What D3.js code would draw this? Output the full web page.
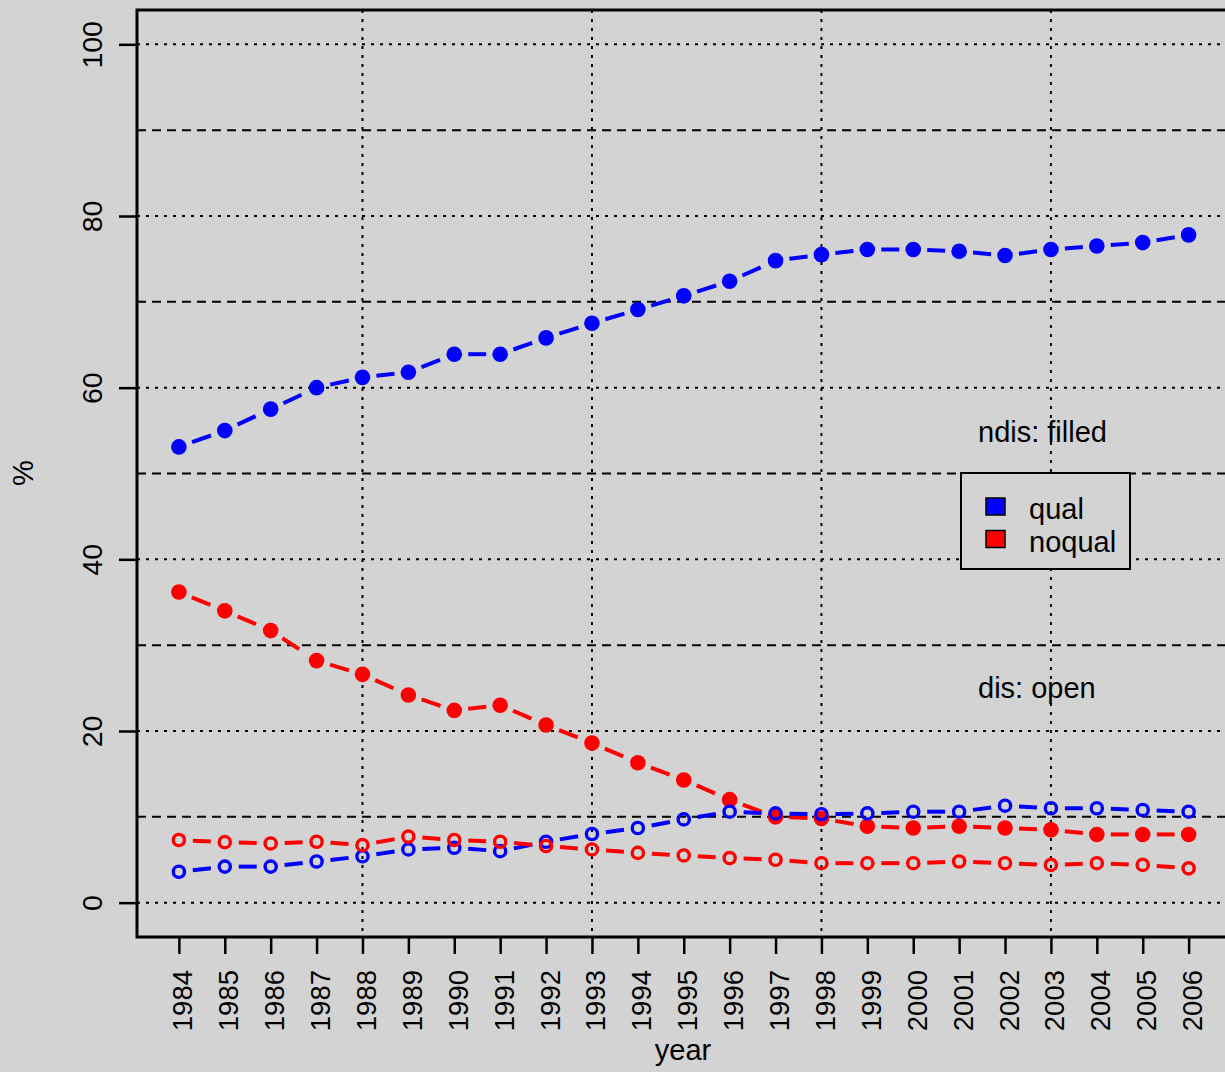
<!DOCTYPE html>
<meta charset="utf-8">
<style>
body { margin: 0; background: #d3d3d3; }
text { font-family: "Liberation Sans", Arial, sans-serif; fill: #000; }
</style>
<svg width="1225" height="1072"></svg>
<script src="https://cdn.jsdelivr.net/npm/d3@7"></script>
<script>

var years = d3.range(1984, 2007);

// ndis (filled points)
var ndisQual   = [53.1, 55.0, 57.5, 60.0, 61.2, 61.8, 63.9, 63.9, 65.8, 67.5, 69.1, 70.7,
                  72.4, 74.8, 75.5, 76.1, 76.1, 75.9, 75.4, 76.1, 76.5, 76.9, 77.8];
var ndisNoqual = [36.2, 34.0, 31.7, 28.2, 26.6, 24.2, 22.4, 23.0, 20.7, 18.6, 16.3, 14.3,
                  12.0, 10.0, 9.8, 8.9, 8.7, 8.9, 8.7, 8.5, 7.95, 7.95, 7.95];
// dis (open points)
var disQual    = [3.6, 4.2, 4.2, 4.8, 5.4, 6.2, 6.4, 6.0, 7.1, 8.0, 8.7, 9.7,
                  10.6, 10.4, 10.3, 10.4, 10.6, 10.6, 11.3, 11.0, 11.0, 10.8, 10.6];
var disNoqual  = [7.3, 7.05, 6.9, 7.1, 6.7, 7.7, 7.3, 7.1, 6.6, 6.2, 5.8, 5.5,
                  5.2, 5.0, 4.6, 4.6, 4.6, 4.8, 4.6, 4.4, 4.6, 4.4, 4.0];

var yTicks = [0, 20, 40, 60, 80, 100];
var yDotted = [0, 20, 40, 60, 80, 100];
var yDashed = [10, 30, 50, 70, 90];
var xGrid = [1988, 1993, 1998, 2003];

var legendLabels = ["qual", "noqual"];
var legendColors = ["#0000ff", "#ff0000"];

var series = [
  {values: ndisQual,   color: "#0000ff", filled: true},
  {values: ndisNoqual, color: "#ff0000", filled: true},
  {values: disQual,    color: "#0000ff", filled: false},
  {values: disNoqual,  color: "#ff0000", filled: false}
];

(function() {
var svg = d3.select("svg");

var pLeft = 137, pRight = 1229, pTop = 10, pBottom = 937;

var x = d3.scaleLinear().domain([1983.12, 2006.88]).range([138.5, 1229]);
var y = d3.scaleLinear().domain([-4, 104]).range([pBottom, pTop]);

// grid
var grid = svg.append("g");
grid.selectAll("line.dot")
  .data(yDotted).enter().append("line")
    .attr("x1", pLeft).attr("x2", pRight)
    .attr("y1", d => y(d)).attr("y2", d => y(d))
    .attr("stroke", "#000").attr("stroke-width", 2)
    .attr("stroke-dasharray", "3,6");
grid.selectAll("line.dash")
  .data(yDashed).enter().append("line")
    .attr("x1", pLeft).attr("x2", pRight)
    .attr("y1", d => y(d)).attr("y2", d => y(d))
    .attr("stroke", "#000").attr("stroke-width", 2)
    .attr("stroke-dasharray", "9,6");
grid.selectAll("line.vx")
  .data(xGrid).enter().append("line")
    .attr("x1", d => x(d)).attr("x2", d => x(d))
    .attr("y1", pTop).attr("y2", pBottom)
    .attr("stroke", "#000").attr("stroke-width", 2)
    .attr("stroke-dasharray", "3,6");

// series, type "b": segments with gaps around points
var gap = 14;
series.forEach(function(s) {
  var pts = s.values.map((v, i) => [x(years[i]), y(v)]);
  var segs = [];
  for (var i = 0; i < pts.length - 1; i++) {
    var a = pts[i], b = pts[i + 1];
    var dx = b[0] - a[0], dy = b[1] - a[1], L = Math.sqrt(dx * dx + dy * dy);
    if (L <= 2 * gap) continue;
    var ux = dx / L, uy = dy / L;
    segs.push([a[0] + ux * gap, a[1] + uy * gap, b[0] - ux * gap, b[1] - uy * gap]);
  }
  var g = svg.append("g");
  g.selectAll("line").data(segs).enter().append("line")
    .attr("x1", d => d[0]).attr("y1", d => d[1])
    .attr("x2", d => d[2]).attr("y2", d => d[3])
    .attr("stroke", s.color).attr("stroke-width", 4)
    .attr("stroke-dasharray", "20,12");
  g.selectAll("circle").data(pts).enter().append("circle")
    .attr("cx", d => d[0]).attr("cy", d => d[1])
    .attr("r", s.filled ? 7.8 : 5.6)
    .attr("fill", s.filled ? s.color : "none")
    .attr("stroke", s.filled ? "none" : s.color)
    .attr("stroke-width", 3.4);
});

// box
svg.append("rect")
  .attr("x", pLeft).attr("y", pTop)
  .attr("width", pRight - pLeft).attr("height", pBottom - pTop)
  .attr("fill", "none").attr("stroke", "#000").attr("stroke-width", 3);

// axes
var xAxis = svg.append("g")
  .attr("transform", "translate(0," + pBottom + ")")
  .call(d3.axisBottom(x).tickValues(years).tickFormat(d3.format("d")).tickSize(17).tickSizeOuter(0));
xAxis.select(".domain").remove();
xAxis.selectAll(".tick line").attr("stroke", "#000").attr("stroke-width", 2.5);
xAxis.selectAll(".tick text")
  .attr("font-size", 27.5)
  .attr("transform", "rotate(-90)")
  .attr("text-anchor", "end")
  .attr("x", -33).attr("y", 13).attr("dy", null);

var yAxis = svg.append("g")
  .attr("transform", "translate(" + pLeft + ",0)")
  .call(d3.axisLeft(y).tickValues(yTicks).tickSize(18).tickSizeOuter(0));
yAxis.select(".domain").remove();
yAxis.selectAll(".tick line").attr("stroke", "#000").attr("stroke-width", 2.5);
yAxis.selectAll(".tick text")
  .attr("font-size", 28.5)
  .attr("transform", "rotate(-90)")
  .attr("text-anchor", "middle")
  .attr("x", 0).attr("y", -35).attr("dy", null);

// axis titles
svg.append("text")
  .attr("x", 683).attr("y", 1060)
  .attr("text-anchor", "middle").attr("font-size", 29)
  .text("year");
svg.append("text")
  .attr("transform", "translate(33,473) rotate(-90)")
  .attr("text-anchor", "middle").attr("font-size", 29)
  .text("%");

// annotations
svg.append("text").attr("x", 978).attr("y", 442).attr("font-size", 29).text("ndis: filled");
svg.append("text").attr("x", 978).attr("y", 698).attr("font-size", 29).text("dis: open");

// legend
var lg = svg.append("g");
lg.append("rect")
  .attr("x", 961).attr("y", 473).attr("width", 169).attr("height", 96)
  .attr("fill", "#d3d3d3").attr("stroke", "#000").attr("stroke-width", 2);
legendLabels.forEach(function(lab, i) {
  lg.append("rect")
    .attr("x", 986).attr("y", 498 + i * 32.5).attr("width", 19).attr("height", 17)
    .attr("fill", legendColors[i]).attr("stroke", "#000").attr("stroke-width", 1.5);
  lg.append("text")
    .attr("x", 1029).attr("y", 519 + i * 32.5)
    .attr("font-size", 29).text(lab);
});
})();

</script>
